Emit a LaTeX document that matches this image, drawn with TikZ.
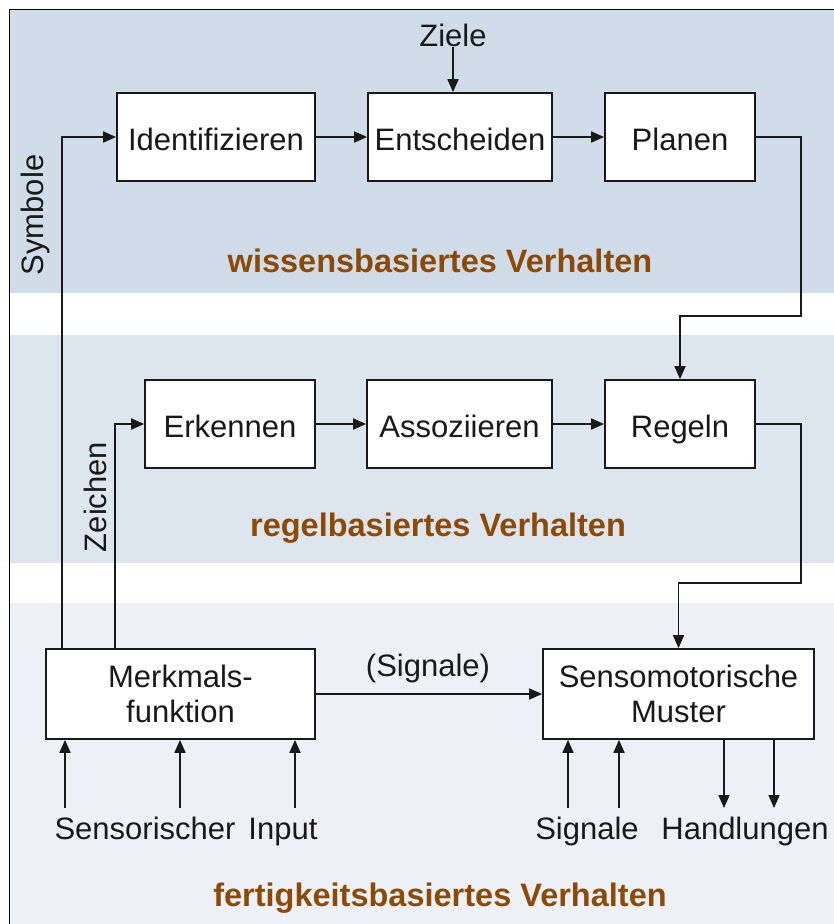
\documentclass[tikz,border=0pt]{standalone}
\usepackage{fontspec}
\setmainfont{Liberation Sans}
\usetikzlibrary{arrows.meta}
\definecolor{bandA}{RGB}{208,221,232}
\definecolor{bandB}{RGB}{221,230,238}
\definecolor{bandC}{RGB}{237,241,246}
\definecolor{brownlbl}{RGB}{140,74,10}
\definecolor{ink}{RGB}{25,25,25}
\tikzset{
  box/.style={draw=ink, line width=1.7pt, fill=white, minimum height=88pt, inner sep=0pt, align=center, font=\fontsize{31}{35}\selectfont, text=ink},
  onebox/.style={box, text height=26pt, text depth=0pt},
  arr/.style={draw=ink, line width=1.7pt, -{Triangle[length=13pt,width=11pt]}},
  lbl/.style={font=\fontsize{31}{35}\selectfont, text=ink, inner sep=0pt},
  level/.style={font=\bfseries\fontsize{32.5}{37}\selectfont, text=brownlbl, inner sep=0pt}
}
\begin{document}
\begin{tikzpicture}[x=1pt,y=-1pt]
\useasboundingbox (0,0) rectangle (834,924);
% bands
\fill[white] (0,0) rectangle (834,924);
\fill[bandA] (9,9) rectangle (834,293);
\fill[bandB] (9,335) rectangle (834,563);
\fill[bandC] (9,603) rectangle (834,924);
\draw[black, line width=1pt] (9,924) -- (9,9) -- (834,9);
% level labels
\node[level] (lw) at (440,261) {wissensbasiertes Verhalten};
\node[level] (lr) at (438,528) {regelbasiertes Verhalten};
\node[level] (lf) at (440,898) {fertigkeitsbasiertes Verhalten};
% boxes
\node[onebox, minimum width=198pt] (ident) at (216,137) {Identifizieren};
\node[onebox, minimum width=184pt] (ent) at (460,137) {Entscheiden};
\node[onebox, minimum width=150pt] (plan) at (680,137) {Planen};
\node[onebox, minimum width=170pt] (erk) at (230,424) {Erkennen};
\node[onebox, minimum width=185pt] (ass) at (459.5,424) {Assoziieren};
\node[onebox, minimum width=150pt] (reg) at (680,424) {Regeln};
\node[box, minimum width=269pt, minimum height=90pt] (merk) at (180.5,694) {Merkmals-\\funktion};
\node[box, minimum width=271pt, minimum height=90pt] (senso) at (678.5,694) {Sensomotorische\\Muster};
% texts
\node[lbl] (ziele) at (453,35) {Ziele};
\node[lbl, rotate=90] (symb) at (35,215) {Symbole};
\node[lbl, rotate=90] (zeich) at (95,497) {Zeichen};
\node[lbl] (sig) at (428,668) {(Signale)};
\node[lbl] (sens) at (186,831) {Sensorischer\hspace{13pt}Input};
\node[lbl] (sign) at (587,831) {Signale};
\node[lbl] (hand) at (745,831) {Handlungen};
% top row
\draw[arr] (ziele.south) -- (ziele.south |- ent.north);
\draw[arr] (ident.east) -- (ent.west);
\draw[arr] (ent.east) -- (plan.west);
\draw[arr] (plan.east) -- ++(45,0) -- ++(0,179) -| (reg.north);
% middle row
\draw[arr] (erk.east) -- (ass.west);
\draw[arr] (ass.east) -- (reg.west);
\draw[arr] (reg.east) -- ++(45,0) -- ++(0,159) -| (senso.north);
% feedback from Merkmalsfunktion
\coordinate (sx) at (62,0);
\coordinate (zx) at (115,0);
\draw[arr] (merk.north -| sx) |- (ident.west);
\draw[arr] (merk.north -| zx) |- (erk.west);
\draw[arr] (merk.east) -- (senso.west);
% inputs
\coordinate (i1) at (65,808);
\coordinate (i2) at (180,808);
\coordinate (i3) at (295,808);
\draw[arr] (i1) -- (i1 |- merk.south);
\draw[arr] (i2) -- (i2 |- merk.south);
\draw[arr] (i3) -- (i3 |- merk.south);
\coordinate (s1) at (568,808);
\coordinate (s2) at (619,808);
\draw[arr] (s1) -- (s1 |- senso.south);
\draw[arr] (s2) -- (s2 |- senso.south);
\coordinate (h1) at (724,808);
\coordinate (h2) at (774,808);
\draw[arr] (h1 |- senso.south) -- (h1);
\draw[arr] (h2 |- senso.south) -- (h2);
\end{tikzpicture}
\end{document}
